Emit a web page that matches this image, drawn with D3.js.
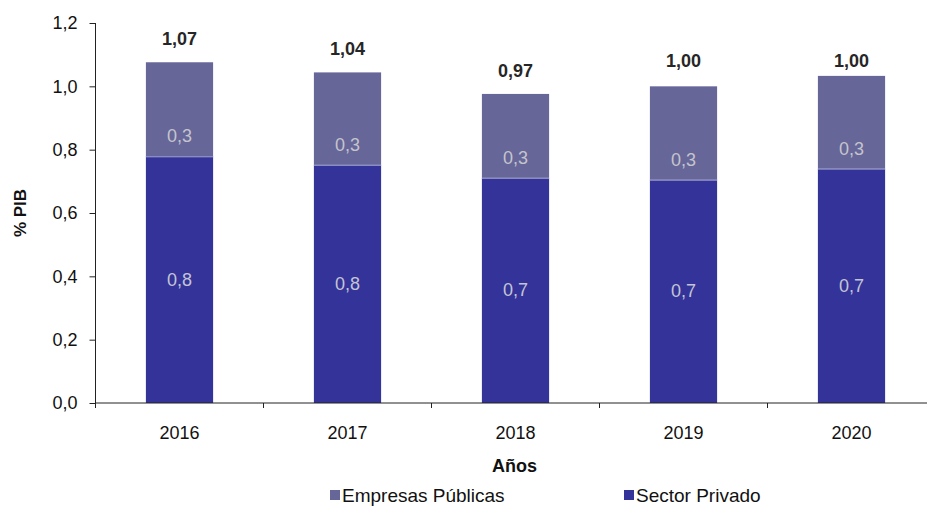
<!DOCTYPE html>
<html><head><meta charset="utf-8">
<script src="https://cdn.jsdelivr.net/npm/d3@7"></script>
<style>body{margin:0;background:#fff}svg{display:block;font-family:"Liberation Sans",Arial,sans-serif}</style>
</head><body><svg id="c" width="927" height="507"></svg>
<script>
const years = ["2016","2017","2018","2019","2020"];
const sectorPrivado = [0.779,0.752,0.711,0.705,0.740];
const empresasPublicas = [0.297,0.292,0.265,0.295,0.293];
const privadoLabels = ["0,8","0,8","0,7","0,7","0,7"];
const publicasLabels = ["0,3","0,3","0,3","0,3","0,3"];
const totalValues = [1.07,1.04,0.97,1.00,1.00];
const totalLabels = ["1,07","1,04","0,97","1,00","1,00"];
const yTicks = [0,0.2,0.4,0.6,0.8,1.0,1.2];
const yTickLabels = ["0,0","0,2","0,4","0,6","0,8","1,0","1,2"];

const svg = d3.select("#c");
const x0 = 95.5, step = 168;
const x = d3.scaleBand().domain(years).range([x0, x0 + step*years.length]).paddingInner(0.6).paddingOuter(0.3);
const y = d3.scaleLinear().domain([0,1.2]).range([403,23]);
const cPriv = "#333399", cPub = "#666699";

// bars
const g = svg.append("g");
years.forEach((yr,i)=>{
  const p = sectorPrivado[i], q = empresasPublicas[i];
  g.append("rect").attr("x",x(yr)).attr("width",x.bandwidth()).attr("y",y(p)).attr("height",y(0)-y(p)).attr("fill",cPriv);
  g.append("rect").attr("x",x(yr)).attr("width",x.bandwidth()).attr("y",y(p+q)).attr("height",y(p)-y(p+q)).attr("fill",cPub);
  g.append("line").attr("x1",x(yr)).attr("x2",x(yr)+x.bandwidth()).attr("y1",y(p)+0.5).attr("y2",y(p)+0.5).attr("stroke","#9a9acc").attr("stroke-width",1);
  const cx = x(yr)+x.bandwidth()/2;
  g.append("text").attr("x",cx).attr("y",(y(p)+y(0))/2+6).attr("text-anchor","middle").attr("font-size",18).attr("fill","#c4c4d4").text(privadoLabels[i]);
  g.append("text").attr("x",cx).attr("y",y(p)-20+6).attr("text-anchor","middle").attr("font-size",18).attr("fill","#c4c4cc").text(publicasLabels[i]);
  g.append("text").attr("x",cx).attr("y",y(totalValues[i])-25+6).attr("text-anchor","middle").attr("font-size",18).attr("font-weight","bold").attr("fill","#262626").text(totalLabels[i]);
});

// y axis
const yAxis = d3.axisLeft(y).tickValues(yTicks).tickSize(6).tickPadding(12).tickFormat((d,i)=>yTickLabels[i]);
const ya = svg.append("g").attr("transform",`translate(${x0},0)`).call(yAxis);
ya.select(".domain").remove();
ya.selectAll(".tick line").attr("stroke","#222");
ya.selectAll(".tick text").attr("font-size",18).attr("fill","#111").attr("font-family","Liberation Sans, Arial, sans-serif");
svg.append("line").attr("x1",x0).attr("x2",x0).attr("y1",y(1.2)).attr("y2",y(0)+5).attr("stroke","#222");

// x axis
svg.append("line").attr("x1",x0).attr("x2",x0+step*years.length).attr("y1",y(0)).attr("y2",y(0)).attr("stroke","#222");
d3.range(years.length+1).forEach(i=>{
  svg.append("line").attr("x1",x0+step*i).attr("x2",x0+step*i).attr("y1",y(0)).attr("y2",y(0)+5).attr("stroke","#222");
});
years.forEach(yr=>{
  svg.append("text").attr("x",x(yr)+x.bandwidth()/2).attr("y",439).attr("text-anchor","middle").attr("font-size",18).attr("fill","#111").text(yr);
});

// axis titles
svg.append("text").attr("x",x0+step*2.5 - 1).attr("y",472).attr("text-anchor","middle").attr("font-size",18).attr("font-weight","bold").attr("fill","#111").text("Años");
svg.append("text").attr("transform","translate(26,213) rotate(-90)").attr("text-anchor","middle").attr("font-size",17).attr("font-weight","bold").attr("fill","#111").text("% PIB");

// legend
const legend = [{label:"Empresas Públicas", color:cPub, x:330},{label:"Sector Privado", color:cPriv, x:624}];
legend.forEach(l=>{
  svg.append("rect").attr("x",l.x).attr("y",490).attr("width",10).attr("height",10).attr("fill",l.color);
  svg.append("text").attr("x",l.x+12).attr("y",502).attr("font-size",19).attr("fill","#111").text(l.label);
});
</script></body></html>
